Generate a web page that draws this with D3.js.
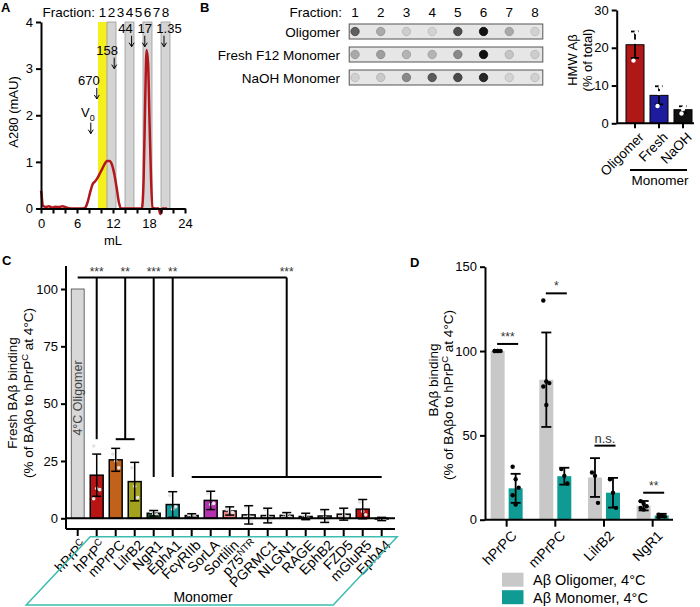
<!DOCTYPE html>
<html>
<head>
<meta charset="utf-8">
<script src="https://cdn.jsdelivr.net/npm/d3@7"></script>
<style>
  body { margin: 0; background: #fff; }
  svg { font-family: "Liberation Sans", Arial, Helvetica, sans-serif; }
  .axis path, .axis line { stroke: #000; stroke-width: 2; }
  .axis text { font-size: 13px; fill: #000; font-family: "Liberation Sans", Arial, sans-serif; }
</style>
</head>
<body>
<svg id="fig" width="700" height="607"></svg>
<script>
// ---------- A: elution trace ----------
const elutionMl = [0, 0.05, 0.3, 0.8, 1.3, 1.8, 2.4, 3.0, 3.6, 4.2, 5, 6, 7, 7.4, 7.8, 8.2, 8.6, 9.0, 9.4, 9.8, 10.2, 10.6, 11.0, 11.4, 11.8, 12.2, 12.6, 13.0, 13.3, 14, 15, 16, 16.8, 17.1, 17.35, 17.6, 17.85, 18.1, 18.35, 18.6, 19, 19.6, 19.9, 20.2, 20.6, 21];
const elutionAU = [0.38, 0.35, 0.06, 0.03, 0.05, 0.02, 0.04, 0.03, 0.05, 0.02, 0, 0, 0, 0.02, 0.15, 0.35, 0.52, 0.58, 0.65, 0.75, 0.85, 0.95, 1.02, 1.02, 0.95, 0.75, 0.45, 0.12, 0, 0, 0, 0, 0, 0.6, 2.2, 3.4, 3.1, 1.8, 0.6, 0.02, 0, 0, -0.12, 0, 0, 0];
const fractionEdges = [9.5, 11, 12.5, 14, 15.5, 17, 18.5, 20, 21.5];
const markerLabels = ["V", "670", "158", "44", "17", "1.35"];
const markerMl = [8.3, 9.3, 12.2, 15.1, 17.3, 20.5];

// ---------- B: dot blot + HMW bars ----------
const blotFractions = [1, 2, 3, 4, 5, 6, 7, 8];
const blotRows = ["Oligomer", "Fresh F12 Monomer", "NaOH Monomer"];
const blotOligomer = [0.6, 0.25, 0.08, 0.05, 0.68, 0.96, 0.25, 0.06];
const blotFresh = [0.25, 0.3, 0.2, 0.2, 0.4, 0.97, 0.12, 0.08];
const blotNaOH = [0.06, 0.1, 0.4, 0.62, 0.7, 0.86, 0.05, 0.06];

const hmwGroups = ["Oligomer", "Fresh", "NaOH"];
const hmwMean = [20.8, 7.4, 3.6];
const hmwSD = [3.5, 2.4, 0.9];
const hmwPoints = [[16.6, 21.6, 24.1], [4.6, 8.0, 9.6], [2.6, 3.8, 4.4]];

// ---------- C: receptor screen ----------
const bindCats = ["hPrPC", "hPrPC", "mPrPC", "LilrB2", "NgR1", "EphA1", "FcγRIIb", "SorLA", "Sortilin", "p75NTR", "PGRMC1", "NLGN1", "RAGE", "EphB2", "FZD5", "mGluR5", "EphA4"];
const bindMean = [100, 18.8, 25.5, 16.0, 2.2, 6.0, 1.2, 7.8, 3.2, 1.5, 1.2, 1.3, 0.8, 1.0, 1.8, 4.0, -0.3];
const bindSD = [0, 9.2, 5.0, 8.4, 1.2, 5.6, 0.8, 4.0, 1.8, 4.0, 3.2, 1.2, 1.4, 2.8, 2.6, 4.2, 0.7];
const bindPoints = [[], [31.5, 13, 12.5, 8.5], [28, 25, 22], [22, 14, 9], [3, 2, 1.5], [10, 4, 5], [1.5, 1, 0.8], [11, 6, 6.5], [4, 3, 2.5], [5, 1, -1.5], [4, 1, -1], [2, 1.5, 0.5], [1.5, 1, 0], [3, 0.5, -1], [4, 1.5, 0.5], [7, 3, 1.5], [0.3, -0.5, -0.7]];
const bindColors = ["#d8d8d8", "#b81414", "#c0621a", "#a3a21e", "#1f5c3a", "#139a9a", "#555", "#b52fb0", "#e88585", "#ddd", "#ddd", "#ccc", "#ccc", "#ccc", "#e0c8c8", "#c01010", "#888"];
const sigLabels = ["***", "**", "***", "**", "***"];
const sigRanges = [[1, 1], [2, 3], [4, 4], [5, 5], [6, 16]];
const sigEnds = [34.5, 34.5, 18, 18, 18];
const sigTop = 105;

// ---------- D: oligomer vs monomer ----------
const dGroups = ["hPrPC", "mPrPC", "LilrB2", "NgR1"];
const oligoMean = [100, 83, 25, 8.3];
const oligoSD = [0, 28, 11.5, 2.8];
const oligoPoints = [[100, 100, 100, 100, 100], [130, 82, 81, 79, 68], [28, 26, 10], [11, 9.5, 8, 7, 6]];
const monoMean = [18.6, 25.8, 16, 2.5];
const monoSD = [8.6, 5, 8.8, 1];
const monoPoints = [[31.4, 24, 19, 14.5, 9], [30, 26, 21.5], [24, 16, 7], [3, 2.6, 2, 1.6]];
const dSig = ["***", "*", "n.s.", "**"];
const dSigLevel = [104.2, 134.2, 43.9, 16];

const svg = d3.select("#fig");

function panelLabel(t, x, y) {
  svg.append("text").attr("x", x).attr("y", y).attr("font-size", 13).attr("font-weight", "bold").text(t);
}
function supText(sel, base, sup, rest, size) {
  sel.append("tspan").text(base);
  if (sup) sel.append("tspan").attr("dy", -size * 0.38).attr("font-size", size * 0.7).text(sup);
  if (rest) sel.append("tspan").attr("dy", size * 0.38).text(rest);
}
const supLabels = { "hPrPC": ["hPrP", "C"], "p75NTR": ["p75", "NTR"] };

//********A**********//
(function () {
  const x = d3.scaleLinear().domain([0, 24]).range([41, 185]);
  const y = d3.scaleLinear().domain([0, 4]).range([208.5, 22]);
  const g = svg.append("g");
  panelLabel("A", 1, 12);

  g.selectAll("rect.band")
    .data(d3.range(fractionEdges.length - 1))
    .enter().append("rect")
      .attr("x", i => x(fractionEdges[i]))
      .attr("width", i => x(fractionEdges[i + 1]) - x(fractionEdges[i]))
      .attr("y", y(4))
      .attr("height", y(0) - y(4))
      .attr("fill", i => i === 0 ? "#f6ef1e" : (i % 2 ? "#d4d4d4" : "none"))
      .attr("stroke", i => i % 2 ? "#9a9a9a" : "none")
      .attr("stroke-width", 0.8);

  g.append("text").attr("x", x(fractionEdges[0]) - 3).attr("y", 17)
    .attr("text-anchor", "end").attr("font-size", 13.5).text("Fraction:");
  g.selectAll("text.fn")
    .data(d3.range(fractionEdges.length - 1))
    .enter().append("text")
      .attr("x", i => (x(fractionEdges[i]) + x(fractionEdges[i + 1])) / 2)
      .attr("y", 17)
      .attr("text-anchor", "middle")
      .attr("font-size", 13.5)
      .text(i => i + 1);

  const line = d3.line()
    .x((d, i) => x(elutionMl[i]))
    .y(d => y(d))
    .curve(d3.curveMonotoneX);
  g.append("path")
    .datum(elutionAU)
    .attr("fill", "none")
    .attr("stroke", "#b3161c")
    .attr("stroke-width", 2.5)
    .attr("stroke-linejoin", "round")
    .attr("d", line);

  g.append("g").attr("class", "axis")
    .attr("transform", "translate(0," + y(0) + ")")
    .call(d3.axisBottom(x).tickValues(d3.range(0, 25, 2)).tickSize(5).tickSizeOuter(0).tickPadding(5)
      .tickFormat(d => d % 6 === 0 ? d : ""));
  g.append("g").attr("class", "axis")
    .attr("transform", "translate(" + x(0) + ",0)")
    .call(d3.axisLeft(y).ticks(4).tickSize(5).tickSizeOuter(0));

  g.append("text").attr("x", (x(0) + x(24)) / 2).attr("y", 245).attr("text-anchor", "middle")
    .attr("font-size", 13).text("mL");
  g.append("text").attr("transform", "translate(18," + 112 + ") rotate(-90)")
    .attr("text-anchor", "middle").attr("font-size", 13).text("A280 (mAU)");

  // size markers
  const level = [1.97, 2.65, 3.3, 3.77, 3.77, 3.77];
  const dx = [-3, -8, -7, -6, 0, 5];
  markerLabels.forEach((t, i) => {
    const xm = x(markerMl[i]), yt = y(level[i]);
    const txt = g.append("text").attr("x", xm + dx[i]).attr("y", yt)
      .attr("text-anchor", "middle").attr("font-size", 13).text(t);
    if (i === 0) txt.append("tspan").attr("dy", 4).attr("font-size", 9).text("0");
    const y1 = yt + (i === 0 ? 6 : 3), y2 = y1 + 11;
    g.append("line").attr("x1", xm).attr("x2", xm).attr("y1", y1).attr("y2", y2)
      .attr("stroke", "#000").attr("stroke-width", 1);
    g.append("path").attr("d", `M${xm - 2.5},${y2 - 4}L${xm},${y2}L${xm + 2.5},${y2 - 4}`)
      .attr("fill", "none").attr("stroke", "#000").attr("stroke-width", 1);
  });
})();

//********B blot**********//
(function () {
  panelLabel("B", 200, 12);
  const fx = d3.scaleBand().domain(blotFractions).range([342.2, 547.8]);
  const ry = d3.scaleBand().domain(blotRows).range([20, 89]);
  const rows = [blotOligomer, blotFresh, blotNaOH];
  const shade = d3.scaleLinear().domain([0, 1]).range(["#dedede", "#0a0a0a"]);
  const g = svg.append("g");

  g.append("text").attr("x", 342).attr("y", 17).attr("text-anchor", "end")
    .attr("font-size", 13.5).text("Fraction:");
  g.selectAll("text.fr").data(blotFractions).enter().append("text")
    .attr("x", d => fx(d) + fx.bandwidth() / 2).attr("y", 17)
    .attr("text-anchor", "middle").attr("font-size", 13.5).text(d => d);

  blotRows.forEach((r, ri) => {
    const cy = ry(r) + ry.bandwidth() / 2;
    g.append("text").attr("x", 340).attr("y", cy + 5).attr("text-anchor", "end")
      .attr("font-size", 13.5).text(r);
    g.append("rect").attr("x", fx.range()[0] + 7).attr("y", cy - 7.5)
      .attr("width", fx.range()[1] - fx.range()[0] - 12).attr("height", 15)
      .attr("fill", "#e6e6e6").attr("stroke", "#555").attr("stroke-width", 1);
    g.selectAll("circle.r" + ri).data(rows[ri]).enter().append("circle")
      .attr("cx", (d, i) => fx(blotFractions[i]) + fx.bandwidth() / 2)
      .attr("cy", cy)
      .attr("r", 4.2)
      .attr("fill", d => shade(d))
      .attr("stroke", d => shade(Math.min(1, d + 0.12)))
      .attr("stroke-width", 0.8);
  });
})();

//********B bars**********//
(function () {
  const x = d3.scaleBand().domain(hmwGroups).range([623, 695]);
  const y = d3.scaleLinear().domain([0, 30]).range([123.3, 10]);
  const colors = ["#b01818", "#1c1c9c", "#111"];
  const g = svg.append("g");
  const bw = 18;

  g.selectAll("rect").data(hmwMean).enter().append("rect")
    .attr("x", (d, i) => x(hmwGroups[i]) + x.bandwidth() / 2 - bw / 2)
    .attr("y", d => y(d)).attr("width", bw).attr("height", d => y(0) - y(d))
    .attr("fill", (d, i) => colors[i]).attr("stroke", "#000").attr("stroke-width", 1);

  hmwMean.forEach((m, i) => {
    const cx = x(hmwGroups[i]) + x.bandwidth() / 2;
    g.append("line").attr("x1", cx).attr("x2", cx).attr("y1", y(m - hmwSD[i])).attr("y2", y(m + hmwSD[i]))
      .attr("stroke", "#000").attr("stroke-width", 1.8);
    [m - hmwSD[i], m + hmwSD[i]].forEach(v => g.append("line").attr("x1", cx - 4).attr("x2", cx + 4)
      .attr("y1", y(v)).attr("y2", y(v)).attr("stroke", "#000").attr("stroke-width", 1.8));
    g.selectAll("circle.p" + i).data(hmwPoints[i]).enter().append("circle")
      .attr("cx", (d, k) => cx + (k - 1) * 1.5).attr("cy", d => y(d)).attr("r", 2.2)
      .attr("fill", "#fff");
  });

  g.append("g").attr("class", "axis").attr("transform", "translate(616.7,0)")
    .call(d3.axisLeft(y).tickValues([0, 10, 20, 30]).tickSize(5).tickSizeOuter(0));
  g.append("line").attr("x1", 616.7).attr("x2", 694).attr("y1", y(0)).attr("y2", y(0))
    .attr("stroke", "#000").attr("stroke-width", 2);
  hmwGroups.forEach(d => {
    const cx = x(d) + x.bandwidth() / 2;
    g.append("line").attr("x1", cx).attr("x2", cx).attr("y1", y(0)).attr("y2", y(0) + 5)
      .attr("stroke", "#000").attr("stroke-width", 2);
    g.append("text").attr("transform", `translate(${cx + 3},${y(0) + 8}) rotate(-45)`)
      .attr("dy", "0.7em").attr("text-anchor", "end").attr("font-size", 13.5).text(d);
  });
  g.append("line").attr("x1", 630).attr("x2", 687).attr("y1", 170).attr("y2", 170)
    .attr("stroke", "#000").attr("stroke-width", 2);
  g.append("text").attr("x", 660).attr("y", 185).attr("text-anchor", "middle")
    .attr("font-size", 13.5).text("Monomer");
  g.append("text").attr("transform", "translate(577,60) rotate(-90)").attr("text-anchor", "middle")
    .attr("font-size", 13).text("HMW Aβ");
  g.append("text").attr("transform", "translate(592,60) rotate(-90)").attr("text-anchor", "middle")
    .attr("font-size", 13).text("(% of total)");
})();

//********C**********//
(function () {
  panelLabel("C", 2, 265);
  const idx = d3.range(bindCats.length);
  const x = d3.scaleBand().domain(idx).range([68.2, 391.2]);
  const y = d3.scaleLinear().domain([0, 100]).range([518.3, 289]);
  const cx = i => x(i) + x.bandwidth() / 2;
  const bw = x.bandwidth() * 0.68;
  const g = svg.append("g");

  g.selectAll("rect").data(bindMean).enter().append("rect")
    .attr("x", (d, i) => cx(i) - bw / 2)
    .attr("y", d => y(Math.max(0, d)))
    .attr("width", bw)
    .attr("height", d => Math.abs(y(d) - y(0)))
    .attr("fill", (d, i) => bindColors[i])
    .attr("stroke", (d, i) => i === 0 ? "#444" : "#000")
    .attr("stroke-width", (d, i) => i === 0 ? 0.8 : 1.5);

  g.append("text").attr("transform", `translate(${cx(0) + 4},398) rotate(-90)`)
    .attr("text-anchor", "middle").attr("font-size", 12.5).attr("fill", "#444").text("4°C Oligomer");

  bindMean.forEach((m, i) => {
    if (bindSD[i] === 0) return;
    g.selectAll("circle.p" + i).data(bindPoints[i]).enter().append("circle")
      .attr("cx", (d, k) => cx(i) + ((k % 3) - 1) * 3).attr("cy", d => y(d)).attr("r", 1.8)
      .attr("fill", "#e4e4e4");
    g.append("line").attr("x1", cx(i)).attr("x2", cx(i)).attr("y1", y(m - bindSD[i])).attr("y2", y(m + bindSD[i]))
      .attr("stroke", "#000").attr("stroke-width", 1.5);
    [m - bindSD[i], m + bindSD[i]].forEach(v => g.append("line").attr("x1", cx(i) - 4.5).attr("x2", cx(i) + 4.5)
      .attr("y1", y(v)).attr("y2", y(v)).attr("stroke", "#000").attr("stroke-width", 1.5));
  });

  // axes
  g.append("g").attr("class", "axis").attr("transform", "translate(66,0)")
    .call(d3.axisLeft(y).tickValues([0, 25, 50, 75, 100]).tickSize(5).tickSizeOuter(0))
    .select(".domain").remove();
  g.append("line").attr("x1", 66).attr("x2", 66).attr("y1", y(110)).attr("y2", 529)
    .attr("stroke", "#000").attr("stroke-width", 2);
  g.append("line").attr("x1", 66).attr("x2", 395).attr("y1", y(0)).attr("y2", y(0))
    .attr("stroke", "#000").attr("stroke-width", 2);
  g.append("line").attr("x1", 66).attr("x2", 395).attr("y1", 529).attr("y2", 529)
    .attr("stroke", "#000").attr("stroke-width", 2);
  idx.forEach(i => {
    g.append("line").attr("x1", cx(i)).attr("x2", cx(i)).attr("y1", 529).attr("y2", 536)
      .attr("stroke", "#000").attr("stroke-width", 2);
    const t = g.append("text").attr("transform", `translate(${cx(i) + 3},539) rotate(-45)`)
      .attr("dy", "0.7em").attr("text-anchor", "end").attr("font-size", 14);
    const s = supLabels[bindCats[i]];
    if (s) supText(t, s[0], s[1], null, 14); else t.text(bindCats[i]);
  });

  // significance
  const ln = (x1, y1, x2, y2) => g.append("line").attr("x1", x1).attr("y1", y1).attr("x2", x2).attr("y2", y2)
    .attr("stroke", "#000").attr("stroke-width", 2);
  const midOf = r => (cx(r[0]) + cx(r[1])) / 2;
  ln(cx(0), y(sigTop), midOf(sigRanges[sigRanges.length - 1]), y(sigTop));
  sigRanges.forEach((r, k) => {
    const mx = midOf(r);
    ln(mx, y(sigTop), mx, y(sigEnds[k]));
    if (r[0] !== r[1]) ln(cx(r[0]), y(sigEnds[k]), cx(r[1]), y(sigEnds[k]));
    g.append("text").attr("x", mx).attr("y", y(sigTop) - 2).attr("text-anchor", "middle")
      .attr("font-size", 12).attr("fill", "#333").text(sigLabels[k]);
  });

  // monomer parallelogram
  const L = x(1) + 3, R = x(16) + x.bandwidth() + 6, T = 536.7, B = 605, S = 64;
  g.append("path").attr("d", `M${L},${T}L${R},${T}L${R - S},${B}L${L - S},${B}Z`)
    .attr("fill", "none").attr("stroke", "#3dbdb0").attr("stroke-width", 1.5);
  g.append("text").attr("x", 203).attr("y", 602).attr("text-anchor", "middle")
    .attr("font-size", 14).text("Monomer");

  g.append("text").attr("transform", "translate(17,393) rotate(-90)").attr("text-anchor", "middle")
    .attr("font-size", 13.5).text("Fresh BAβ binding");
  const yl2 = g.append("text").attr("transform", "translate(33,393) rotate(-90)").attr("text-anchor", "middle")
    .attr("font-size", 13.5);
  supText(yl2, "(% of BAβo to hPrP", "C", " at 4°C)", 13.5);
})();

//********D**********//
(function () {
  panelLabel("D", 410, 267);
  const x = d3.scaleBand().domain(dGroups).range([482.3, 677]);
  const y = d3.scaleLinear().domain([0, 150]).range([519.7, 266.7]);
  const cx = d => x(d) + x.bandwidth() / 2;
  const bw = 14, off = 9;
  const g = svg.append("g");
  const series = [
    { mean: oligoMean, sd: oligoSD, pts: oligoPoints, color: "#c8c8c8", dx: -off },
    { mean: monoMean, sd: monoSD, pts: monoPoints, color: "#109a94", dx: off }
  ];
  series.forEach((s, si) => {
    g.selectAll("rect.s" + si).data(s.mean).enter().append("rect")
      .attr("x", (d, i) => cx(dGroups[i]) + s.dx - bw / 2)
      .attr("y", d => y(d)).attr("width", bw).attr("height", d => y(0) - y(d))
      .attr("fill", s.color);
    s.mean.forEach((m, i) => {
      const bx = cx(dGroups[i]) + s.dx;
      if (s.sd[i] > 0) {
        g.append("line").attr("x1", bx).attr("x2", bx).attr("y1", y(m - s.sd[i])).attr("y2", y(m + s.sd[i]))
          .attr("stroke", "#000").attr("stroke-width", 1.8);
        [m - s.sd[i], m + s.sd[i]].forEach(v => g.append("line").attr("x1", bx - 5).attr("x2", bx + 5)
          .attr("y1", y(v)).attr("y2", y(v)).attr("stroke", "#000").attr("stroke-width", 1.8));
      }
      g.selectAll("circle.p" + si + i).data(s.pts[i]).enter().append("circle")
        .attr("cx", (d, k) => bx + ((k % 3) - 1) * 3).attr("cy", d => y(d)).attr("r", 2.2)
        .attr("fill", "#000");
    });
  });

  g.append("g").attr("class", "axis").attr("transform", "translate(485,0)")
    .call(d3.axisLeft(y).tickValues([0, 50, 100, 150]).tickSize(5).tickSizeOuter(0));
  g.append("line").attr("x1", 485).attr("x2", 673).attr("y1", y(0)).attr("y2", y(0))
    .attr("stroke", "#000").attr("stroke-width", 2);
  dGroups.forEach((d, i) => {
    g.append("line").attr("x1", cx(d)).attr("x2", cx(d)).attr("y1", y(0)).attr("y2", y(0) + 7)
      .attr("stroke", "#000").attr("stroke-width", 2);
    g.append("text").attr("transform", `translate(${cx(d) + 4},${y(0) + 10}) rotate(-45)`)
      .attr("dy", "0.7em").attr("text-anchor", "end").attr("font-size", 14).text(d);
    const sy = y(dSigLevel[i]);
    g.append("line").attr("x1", cx(d) - 9.5).attr("x2", cx(d) + 11.5).attr("y1", sy).attr("y2", sy)
      .attr("stroke", "#000").attr("stroke-width", 2);
    g.append("text").attr("x", cx(d) + 1).attr("y", sy - 3).attr("text-anchor", "middle")
      .attr("font-size", dSig[i] === "n.s." ? 13 : 12).attr("fill", "#333").text(dSig[i]);
  });

  // legend
  [["Aβ Oligomer, 4°C", "#c8c8c8"], ["Aβ Monomer, 4°C", "#109a94"]].forEach((l, i) => {
    g.append("rect").attr("x", 502).attr("y", 572.7 + i * 17.5).attr("width", 21.5).attr("height", 14)
      .attr("fill", l[1]);
    g.append("text").attr("x", 533).attr("y", 585 + i * 17.5).attr("font-size", 14.5).text(l[0]);
  });

  g.append("text").attr("transform", "translate(438,380) rotate(-90)").attr("text-anchor", "middle")
    .attr("font-size", 13.5).text("BAβ binding");
  const yl2 = g.append("text").attr("transform", "translate(453,395) rotate(-90)").attr("text-anchor", "middle")
    .attr("font-size", 13.5);
  supText(yl2, "(% of BAβo to hPrP", "C", " at 4°C)", 13.5);
})();
</script>
</body>
</html>
